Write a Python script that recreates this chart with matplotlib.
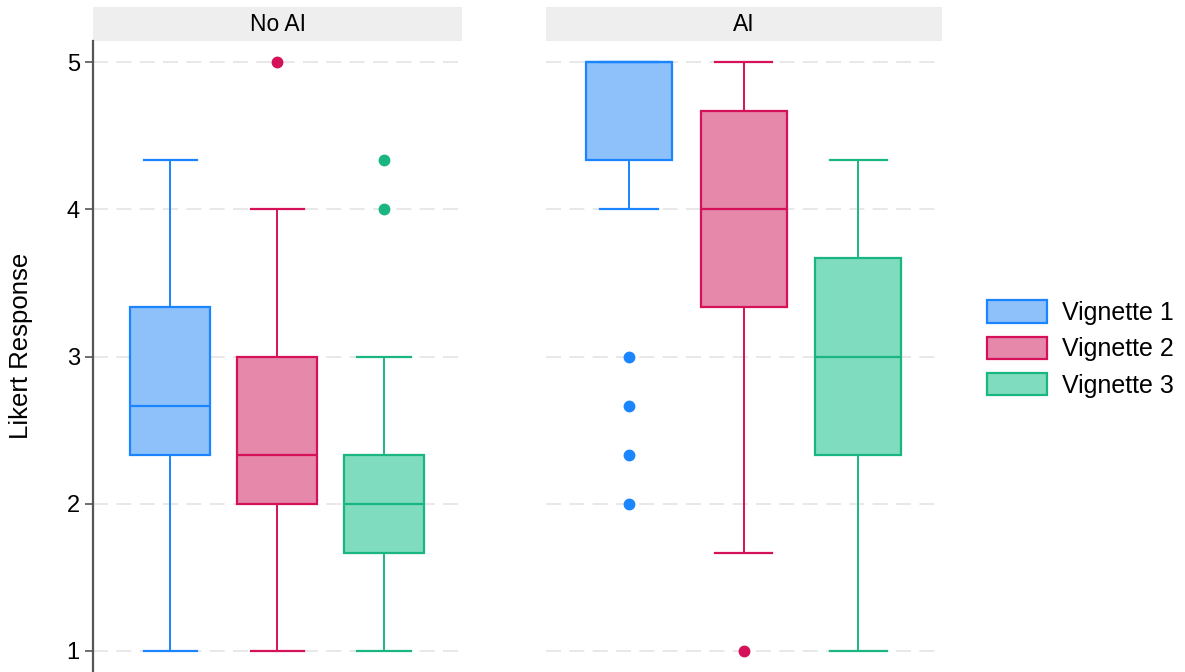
import matplotlib
matplotlib.use("Agg")
import matplotlib.pyplot as plt
from matplotlib.patches import Patch, Rectangle

plt.rcParams['font.family'] = ['Liberation Sans', 'DejaVu Sans']

# Five-number summaries of the Likert responses, one entry per vignette
panels = ['No AI', 'AI']
vignettes = ['Vignette 1', 'Vignette 2', 'Vignette 3']

no_ai_whislo = [1.0, 1.0, 1.0]
no_ai_q1 = [2.333, 2.0, 1.667]
no_ai_med = [2.667, 2.333, 2.0]
no_ai_q3 = [3.333, 3.0, 2.333]
no_ai_whishi = [4.333, 4.0, 3.0]
no_ai_fliers = [[], [5.0], [4.333, 4.0]]

ai_whislo = [4.0, 1.667, 1.0]
ai_q1 = [4.333, 3.333, 2.333]
ai_med = [5.0, 4.0, 3.0]
ai_q3 = [5.0, 4.667, 3.667]
ai_whishi = [5.0, 5.0, 4.333]
ai_fliers = [[3.0, 2.667, 2.333, 2.0], [1.0], []]

edge_colors = ['#1a85ff', '#d41159', '#1ab681']
fill_colors = ['#8ec1fa', '#e688a9', '#80dcbe']


def make_stats(lo, q1, med, q3, hi, fl):
    return [dict(whislo=a, q1=b, med=c, q3=d, whishi=e, fliers=f)
            for a, b, c, d, e, f in zip(lo, q1, med, q3, hi, fl)]


stats = [
    make_stats(no_ai_whislo, no_ai_q1, no_ai_med, no_ai_q3, no_ai_whishi, no_ai_fliers),
    make_stats(ai_whislo, ai_q1, ai_med, ai_q3, ai_whishi, ai_fliers),
]

W, H = 1185, 672
fig = plt.figure(figsize=(W / 100, H / 100), dpi=100)

# panel extents in pixels (left, right)
panel_px = [(93, 462), (546, 942)]
top_px, bottom_px = 41, 672
header_px = 34

axes = []
for (x0, x1) in panel_px:
    ax = fig.add_axes([x0 / W, 1 - bottom_px / H, (x1 - x0) / W, (bottom_px - top_px) / H])
    axes.append(ax)

for k, ax in enumerate(axes):
    for y in [1, 2, 3, 4, 5]:
        ax.axhline(y, color='#e4e4e4', lw=1.2, dashes=(9, 5), zorder=0)

    for i, st in enumerate(stats[k]):
        ax.bxp([st], positions=[i + 1], widths=0.75, capwidths=0.5,
               patch_artist=True, showfliers=True,
               boxprops=dict(facecolor=fill_colors[i], edgecolor=edge_colors[i], lw=1.6),
               medianprops=dict(color=edge_colors[i], lw=1.6),
               whiskerprops=dict(color=edge_colors[i], lw=1.4),
               capprops=dict(color=edge_colors[i], lw=1.6),
               flierprops=dict(marker='o', markersize=7.5, markerfacecolor=edge_colors[i],
                               markeredgecolor=edge_colors[i]))

    ax.set_xlim(0.275, 3.73)
    ax.set_ylim(1 - 21 / 147, 5 + 21 / 147)
    ax.set_xticks([])
    for s in ['top', 'right', 'bottom']:
        ax.spines[s].set_visible(False)

    # facet header strip
    hh = header_px / (bottom_px - top_px)
    ax.add_patch(Rectangle((0, 1), 1, hh, transform=ax.transAxes, facecolor='#eeeeee',
                           edgecolor='none', clip_on=False))
    ax.text(0.5, 1 + hh / 2, panels[k], transform=ax.transAxes, ha='center', va='center',
            fontsize=16.5, color='black')

ax1, ax2 = axes
ax1.set_yticks([1, 2, 3, 4, 5])
ax1.tick_params(axis='y', length=5.5, width=1.2, color='#555555', labelsize=17, pad=4)
ax1.spines['left'].set_color('#555555')
ax1.spines['left'].set_linewidth(1.6)
ax1.set_ylabel('Likert Response', fontsize=18.5)
ax1.yaxis.set_label_coords(-0.163, 0.517)

ax2.spines['left'].set_visible(False)
ax2.set_yticks([])

handles = [Patch(facecolor=f, edgecolor=e, lw=1.6) for f, e in zip(fill_colors, edge_colors)]
fig.legend(handles, vignettes, loc='center left', bbox_to_anchor=(987 / W, 1 - 349 / H),
           bbox_transform=fig.transFigure, frameon=False, fontsize=18, borderpad=0,
           borderaxespad=0, handlelength=2.4, handleheight=1.0, handletextpad=0.6,
           labelspacing=0.46)

fig.savefig('out.png', dpi=100)
